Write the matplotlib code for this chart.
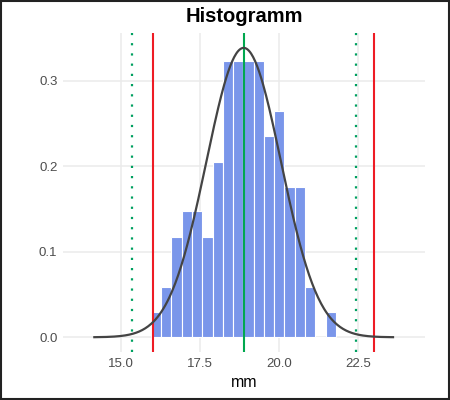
import numpy as np
import matplotlib
matplotlib.use("Agg")
import matplotlib.pyplot as plt
from matplotlib.patches import Rectangle

plt.rcParams['font.family'] = ['Liberation Sans', 'DejaVu Sans']

# Histogram values (density per bin)
bin_start = 15.95
bin_width = 0.3245
density = [0.029, 0.059, 0.117, 0.147, 0.147, 0.117, 0.205, 0.323, 0.323,
           0.323, 0.323, 0.235, 0.264, 0.176, 0.176, 0.059, 0.0, 0.029]

# Fitted normal and limits
mean = 18.88
sd = 1.18
lsl, usl = 16.0, 23.0          # red spec limits
lo3, hi3 = mean - 3 * sd, mean + 3 * sd   # green dotted +-3 sigma

xticks = [15.0, 17.5, 20.0, 22.5]
yticks = [0.0, 0.1, 0.2, 0.3]

fig = plt.figure(figsize=(4.5, 4), dpi=100)
ax = fig.add_axes([0.14, 0.12, 0.8044, 0.7975])

lefts = bin_start + bin_width * np.arange(len(density))
ax.bar(lefts, density, width=bin_width, align='edge', color='#7A96EA',
       edgecolor='white', linewidth=0.8, zorder=2)

xs = np.linspace(mean - 4 * sd, mean + 4 * sd, 300)
pdf = np.exp(-0.5 * ((xs - mean) / sd) ** 2) / (sd * np.sqrt(2 * np.pi))
ax.plot(xs, pdf, color='#444444', lw=1.6, zorder=4)

ax.axvline(mean, color='#00A84F', lw=1.5, zorder=3)
for v in (lsl, usl):
    ax.axvline(v, color='#EE1C25', lw=1.5, zorder=3)
for v in (lo3, hi3):
    ax.axvline(v, color='#00A060', lw=1.6, linestyle=(0, (1, 3.6)), zorder=3)

ax.set_xlim(13.17, 24.61)
ax.set_ylim(-0.0172, 0.3555)
ax.set_xticks(xticks)
ax.set_xticklabels(['15.0', '17.5', '20.0', '22.5'])
ax.set_yticks(yticks)
ax.set_yticklabels(['0.0', '0.1', '0.2', '0.3'])
ax.grid(True, color='#EBEBEB', lw=1.1, zorder=0)
ax.set_axisbelow(True)
for s in ax.spines.values():
    s.set_visible(False)
ax.tick_params(length=0, labelsize=9.5, labelcolor='#4D4D4D', pad=4)

ax.set_xlabel('mm', fontsize=11.5, color='black', labelpad=4)
ax.set_title('Histogramm', fontsize=14.5, fontweight='bold', pad=8)

fig.patches.append(Rectangle((0.002, 0.0025), 0.996, 0.995, transform=fig.transFigure,
                             fill=False, edgecolor='#222222', lw=1.5))

fig.savefig('out.png', dpi=100)
